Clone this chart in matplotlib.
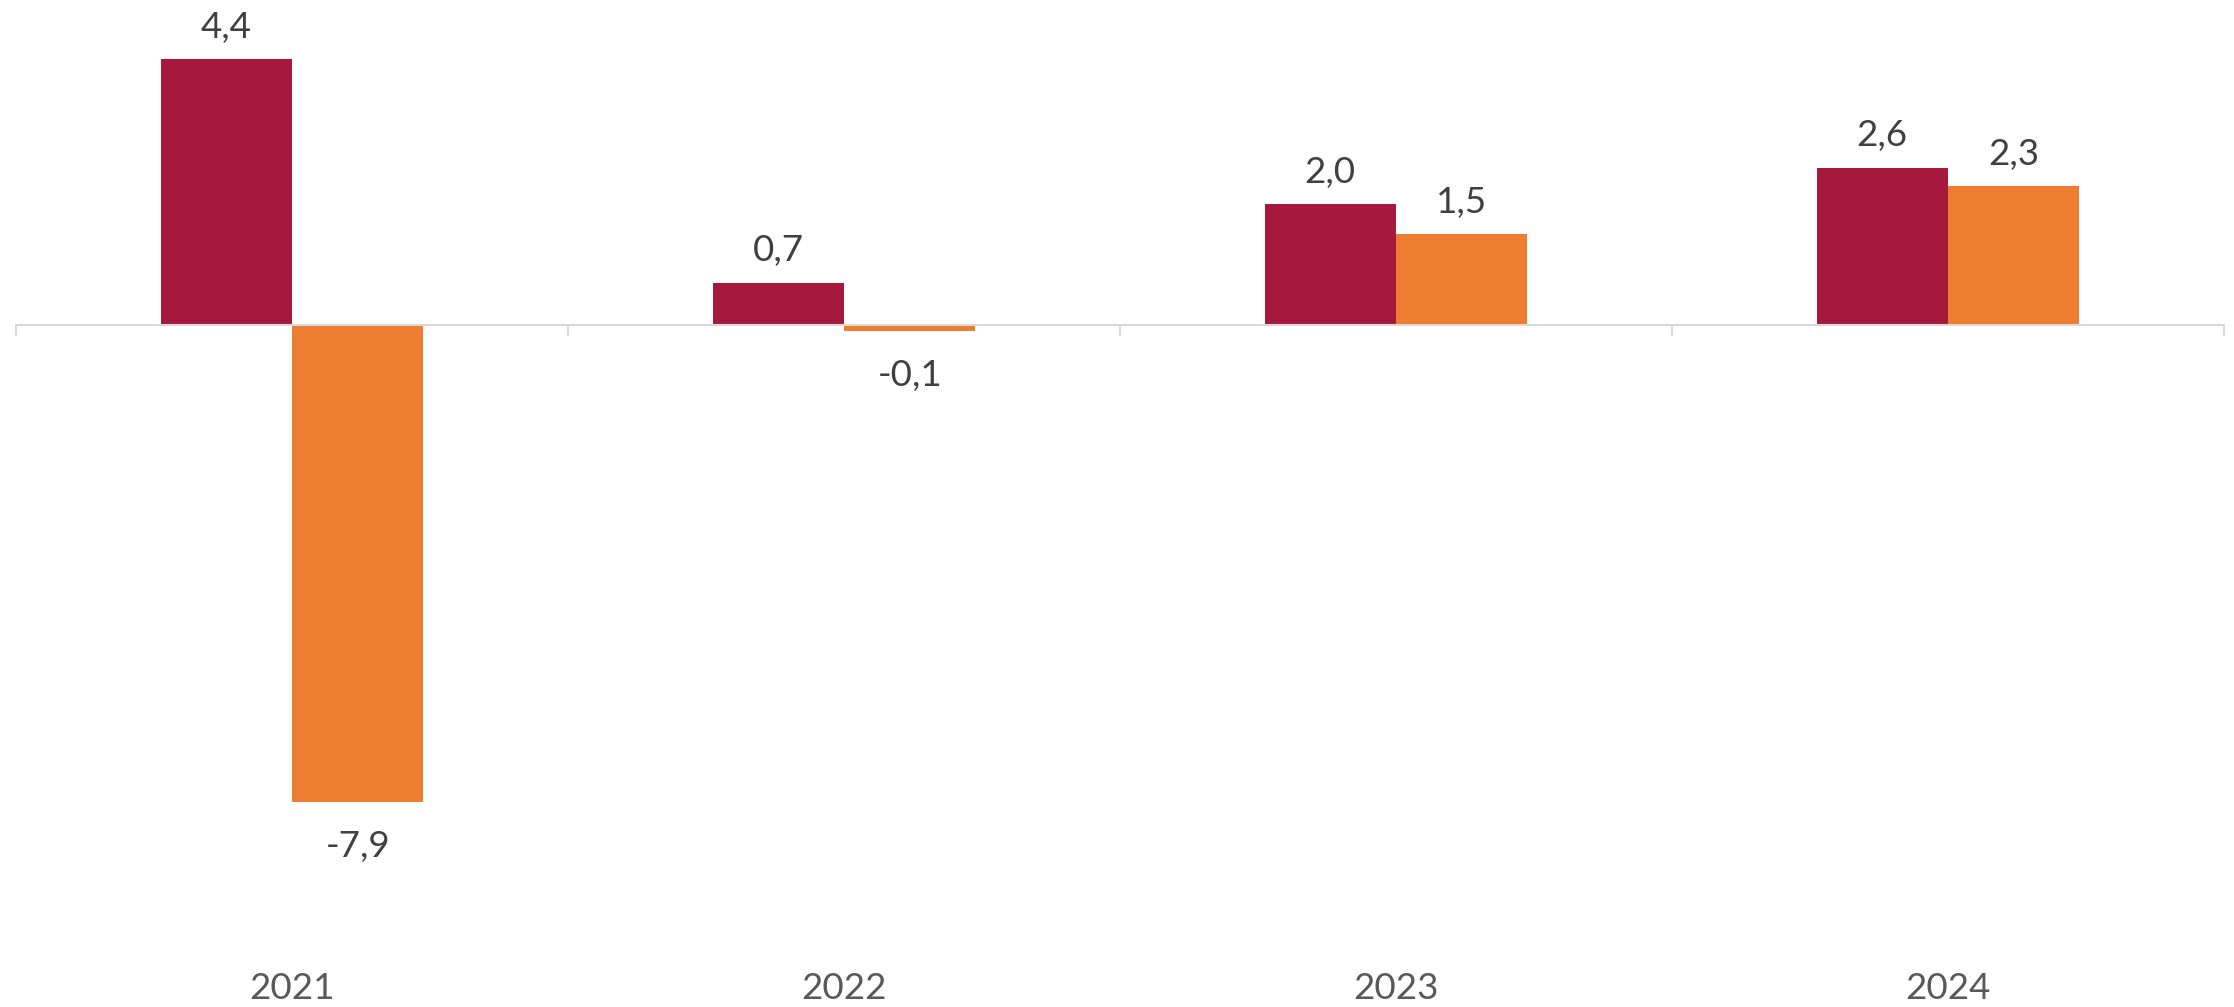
import numpy as np
import matplotlib.pyplot as plt
from matplotlib.transforms import blended_transform_factory

# ================= 数据 =================
years = ['2021', '2022', '2023', '2024']
serie_rouge = [4.4, 0.7, 2.0, 2.6]
serie_orange = [-7.9, -0.1, 1.5, 2.3]

plt.rcParams['font.family'] = ['Lato', 'DejaVu Sans']

fig = plt.figure(figsize=(22.34, 10.07), dpi=100)
ax = fig.add_axes([0.00716, 0.0775, 0.98836, 0.8997])

x = np.arange(len(years))
w = 0.238
bars_r = ax.bar(x - w / 2, serie_rouge, w, color='#A6193C')
bars_o = ax.bar(x + w / 2, serie_orange, w, color='#ED7D31')

ax.set_xlim(-0.5, len(years) - 0.5)
ax.set_ylim(-10, 5)

# axe horizontal à zéro, graduations entre les catégories
for s in ['top', 'left', 'right']:
    ax.spines[s].set_visible(False)
ax.spines['bottom'].set_position(('data', 0))
ax.spines['bottom'].set_color('#d9d9d9')
ax.spines['bottom'].set_linewidth(1.5)
ax.set_yticks([])
ax.set_xticks([])
ax.set_xticks(np.arange(-0.5, len(years)), minor=True)
ax.tick_params(axis='x', which='minor', length=8, width=1.5, color='#d9d9d9', direction='out')
ax.tick_params(axis='x', which='major', length=0, labelbottom=False)

# étiquettes de données
for bars, vals in [(bars_r, serie_rouge), (bars_o, serie_orange)]:
    for b, v in zip(bars, vals):
        xc = b.get_x() + b.get_width() / 2
        off = 23 if v >= 0 else -32
        ax.annotate(f'{v:.1f}'.replace('.', ','), xy=(xc, v), xytext=(0, off),
                    textcoords='offset points', ha='center', va='center',
                    fontsize=26.5, color='#404040')

# années en bas
trans = blended_transform_factory(ax.transData, fig.transFigure)
for xi, yr in zip(x, years):
    ax.text(xi, 0.018, yr, transform=trans, ha='center', va='center',
            fontsize=26.5, color='#595959')

fig.savefig('out.png', dpi=100)
